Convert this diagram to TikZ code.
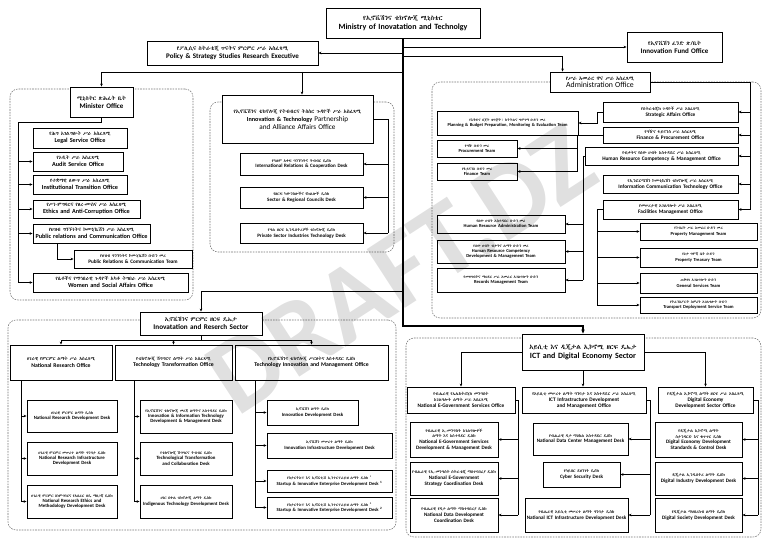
\documentclass[tikz,border=0pt]{standalone}
\usepackage{fontspec}
\usetikzlibrary{arrows.meta,calc}
\setmainfont{Carlito}
\IfFontExistsTF{Abyssinica SIL}{\newfontfamily\am[Scale=0.82]{Abyssinica SIL}}{%
\IfFontExistsTF{FreeSerif}{\newfontfamily\am[Scale=0.82]{FreeSerif}}{%
\IfFontExistsTF{FreeSans}{\newfontfamily\am[Scale=0.82]{FreeSans}}{\newfontfamily\am{DejaVu Sans}}}}
\newcommand\TT[2]{{\am #1}\\#2}
\newcommand\Bx[7][]{%
 \pgfmathsetmacro\bw{#5-#3}\pgfmathsetmacro\bh{#6-#4}%
 \pgfmathsetmacro\bcx{(#3+#5)/2}\pgfmathsetmacro\bcy{(#4+#6)/2}%
 \pgfmathsetmacro\btw{#5-#3-3}%
 \node[bx,minimum width=\bw pt,minimum height=\bh pt,text width=\btw pt,#1] (#2) at (\bcx,\bcy) {#7};}
\newcommand\fz[1]{\pgfmathsetmacro\fzb{#1*1.13}\fontsize{#1}{\fzb}\selectfont\bfseries}
\tikzset{
 bx/.style={draw,line width=0.9pt,fill=white,align=center,inner sep=0.8pt,font=\fz{5}},
 frame/.style={draw=black!55,fill=none,dash pattern=on 1.6pt off 1.1pt,line width=0.55pt,rounded corners=8pt},
 fs/.style={font=\fz{#1}},
 arr/.style={line width=0.7pt,-{Stealth[length=3pt,width=2.6pt]}},
 ln/.style={line width=0.7pt},
 trunk/.style={line width=1.3pt},
}
\begin{document}
\hyphenpenalty=10000 \exhyphenpenalty=10000
\begin{tikzpicture}[x=1pt,y=-1pt]
\useasboundingbox (0,0) rectangle (768,543);
% frames
\Bx[frame]{fmin}{10}{89}{193}{300}{}
\Bx[frame]{fpar}{210}{102}{394}{252}{}
\Bx[frame]{fadm}{432}{82}{761}{318}{}
\Bx[frame]{firs}{8}{320}{396}{530}{}
\Bx[frame]{fict}{406}{338}{761}{537}{}
% top
\Bx[fs=8]{mit}{326}{8}{480}{38}{\TT{የኢኖቬሽንና ቴክኖሎጂ ሚኒስቴር}{Ministry of Inovatation and Technolgy}}
\Bx[fs=7]{pol}{147}{41}{318}{65}{\TT{የፖሊሲና ስትራቴጂ ጥናትና ምርምር ሥራ አስፈጻሚ}{Policy \& Strategy Studies Research Executive}}
\Bx[fs=7]{fund}{627}{32}{722}{62}{\TT{የኢኖቬሽን ፈንድ ጽ/ቤት}{Innovation Fund Office}}
\Bx[fs=6.5]{adm}{550}{72}{650}{92}{{\am የሥራ አመራር ዋና ሥራ አስፈጻሚ}\\{\mdseries\fontsize{7.8}{8.4}\selectfont Administration Office}}
% minister group
\Bx[fs=7]{mino}{70}{87}{133}{117}{\TT{ሚኒስትር ጽሕፈት ቤት}{Minister Office}}
\Bx[fs=6.2]{leg}{33}{128}{127}{148}{\TT{የሕግ አገልግሎት ሥራ አስፈጻሚ}{Legal Service Office}}
\Bx[fs=6.2]{aud}{33}{152}{123}{171}{\TT{የኦዲት ሥራ አስፈጻሚ}{Audit Service Office}}
\Bx[fs=6.2]{ins}{33}{175}{127}{194}{\TT{የተቋማዊ ለውጥ ሥራ አስፈጻሚ}{Institutional Transition Office}}
\Bx[fs=6.2]{eth}{33}{200}{140}{218}{\TT{የሥነ-ምግባርና የፀረ-ሙስና ሥራ አስፈጻሚ}{Ethics and Anti-Corruption Office}}
\Bx[fs=6.2]{pr}{33}{224}{150}{243}{\TT{የህዝብ ግንኙነትና ኮሙኒኬሽን ሥራ አስፈጻሚ}{Public relations and Communication Office}}
\Bx[fs=5.2]{prt}{74}{250}{192}{268}{\TT{የህዝብ ግንኙነትና ኮሙኒኬሽን ቡድን መሪ}{Public Relations \& Communication Team}}
\Bx[fs=6.2]{wom}{33}{273}{188}{292}{\TT{የሴቶችና የማኅበራዊ ጉዳዮች አካቶ ትግበራ ሥራ አስፈጻሚ}{Women and Social Affairs Office}}
% partnership group
\Bx[fs=6.4]{part}{222}{95}{373}{143}{{\am የኢኖቬሽንና ቴክኖሎጂ የትብብርና ትስስር ጉዳዮች ሥራ አስፈጻሚ}\\[1.5pt]{\fontsize{6.2}{8.2}\selectfont Innovation \& Technology} {\mdseries\fontsize{7.2}{8.2}\selectfont Partnership and Alliance Affairs Office}}
\Bx[fs=5]{ird}{240}{153}{363}{175}{\TT{የዓለም አቀፍ ግንኙነትና ትብብር ዴስክ}{International Relations \& Cooperation Desk}}
\Bx[fs=5]{src}{240}{187}{363}{208}{\TT{የዘርፍ ካውንስሎችና የክልሎች ዴስክ}{Sector \& Regional Councils Desk}}
\Bx[fs=5]{pst}{240}{223}{363}{243}{\TT{የግል ዘርፍ ኢንዱስትሪዎች ቴክኖሎጂ ዴስክ}{Private Sector Industries Technology Desk}}
% administration group
\Bx[fs=5.3]{str}{603}{102}{738}{122}{\TT{የስትራቴጂክ ጉዳዮች ሥራ አስፈጻሚ}{Strategic Affairs Office}}
\Bx[fs=5.3]{fpo}{603}{127}{738}{143}{\TT{የግዥና ፋይናንስ ሥራ አስፈጻሚ}{Finance \& Procurement Office}}
\Bx[fs=5.3]{hro}{585}{147}{738}{165}{\TT{የብቃትና የሰው ሀብት አስተዳደር ሥራ አስፈጻሚ}{Human Resource Competency \& Management Office}}
\Bx[fs=5.3]{icto}{603}{175}{738}{193}{\TT{የኢንፎርሜሽን ኮሙኒኬሽን ቴክኖሎጂ ሥራ አስፈጻሚ}{Information Communication Technology Office}}
\Bx[fs=5.3]{fac}{603}{200}{738}{219}{\TT{የመሠረታዊ አገልግሎት ሥራ አስፈጻሚ}{Facilities Management Office}}
\Bx[fs=4.5]{plan}{437}{111}{578}{135}{\TT{የእቅድና በጀት ዝግጅት፣ ክትትልና ግምገማ ቡድን መሪ}{Planning \& Budget Preparation, Monitoring \& Evaluation Team}}
\Bx[fs=4.6]{proc}{437}{140}{517}{157}{\TT{የግዥ ቡድን መሪ}{Procurement Team}}
\Bx[fs=4.6]{fint}{437}{163}{517}{180}{\TT{የፋይናንስ ቡድን መሪ}{Finance Team}}
\Bx[fs=4.6]{hra}{437}{215}{565}{233}{\TT{የሰው ሀብት አስተዳደር ቡድን መሪ}{Human Resource Administration Team}}
\Bx[fs=4.6]{hrc}{437}{240}{565}{263}{\TT{የሰው ሀብት ብቃትና ልማት ቡድን መሪ}{Human Resource Competency Development \& Management Team}}
\Bx[fs=4.6]{rec}{437}{268}{565}{292}{\TT{የመዛግብትና ማህደር ሥራ አመራር አገልግሎት ቡድን}{Records Management Team}}
\Bx[fs=4.6]{pmt}{640}{223}{757}{240}{\TT{የንብረት ሥራ አመራር ቡድን መሪ}{Property Management Team}}
\Bx[fs=4.6]{ptt}{640}{248}{757}{267}{\TT{የዕቃ ግምጃ ቤት ቡድን}{Property Treasury Team}}
\Bx[fs=4.6]{gst}{640}{273}{757}{293}{\TT{ጠቅላላ አገልግሎት ቡድን}{General Services Team}}
\Bx[fs=4.6]{tdt}{640}{297}{757}{313}{\TT{የትራንስፖርት ስምሪት አገልግሎት ቡድን}{Transport Deployment Service Team}}
% innovation and research sector
\Bx[fs=7.2]{irs}{140}{312}{262}{335}{\TT{ኢኖቬሽንና ምርምር ዘርፍ ዴኤታ}{Inovatation and Reserch Sector}}
\Bx[fs=5.7]{nro}{10}{345}{112}{380}{\TT{ሀገራዊ የምርምር ልማት ሥራ አስፈጻሚ}{National Research Office}}
\Bx[fs=5.7]{tto}{115}{345}{232}{380}{\TT{የቴክኖሎጂ ሽግግርና ልማት ሥራ አስፈጻሚ}{Technology Transformation Office}}
\Bx[fs=5.7]{tim}{235}{345}{388}{380}{\TT{የኢኖቬሽንና ቴክኖሎጂ ሥርፀትና አስተዳደር ዴስክ}{Technology Innovation and Management Office}}
\Bx[fs=4.8]{n1}{27}{400}{117}{432}{\TT{ሀገራዊ ምርምር ልማት ዴስክ}{National Research Development Desk}}
\Bx[fs=4.8]{n2}{27}{442}{117}{475}{\TT{ሀገራዊ ምርምር መሠረተ ልማት ግንባታ ዴስክ}{National Research Infrastructure Development Desk}}
\Bx[fs=4.8]{n3}{27}{485}{117}{518}{\TT{ሀገራዊ ምርምር ስነምግባርና የአሰራር ዘዴ ማዘጋጃ ዴስክ}{National Research Ethics and Methodology Development Desk}}
\Bx[fs=4.8]{t1}{140}{400}{232}{433}{\TT{የኢኖቬሽንና ቴክኖሎጂ መረጃ ልማትና አስተዳደር ዴስክ}{Innovation \& Information Technology Development \& Management Desk}}
\Bx[fs=4.8]{t2}{140}{442}{232}{475}{\TT{የቴክኖሎጂ ሽግግርና ትብብር ዴስክ}{Technological Transformation and Collaboration Desk}}
\Bx[fs=4.8]{t3}{140}{485}{232}{518}{\TT{ሀገር በቀል ቴክኖሎጂ ልማት ዴስክ}{Indigenous Technology Development Desk}}
\Bx[fs=4.8]{m1}{267}{400}{358}{425}{\TT{ኢኖቬሽን ልማት ዴስክ}{Innovation Development Desk}}
\Bx[fs=4.8]{m2}{267}{433}{392}{458}{\TT{ኢኖቬሽን መሠረተ ልማት ዴስክ}{Innovation Infrastructure Development Desk}}
\Bx[fs=4.7]{m3}{267}{470}{392}{492}{\TT{የስታርትአፕ እና ኢኖቬቲቭ ኢንተርፕራይዝ ልማት ዴስክ \textsuperscript{1}}{Startup \& Innovative Enterprise Development Desk \textsuperscript{1}}}
\Bx[fs=4.7]{m4}{267}{497}{392}{518}{\TT{የስታርትአፕ እና ኢኖቬቲቭ ኢንተርፕራይዝ ልማት ዴስክ \textsuperscript{2}}{Startup \& Innovative Enterprise Development Desk \textsuperscript{2}}}
% ICT sector
\Bx[fs=8]{ict}{522}{334}{644}{370}{\TT{አይሲቲ እና ዲጂታል ኢኮኖሚ ዘርፍ ዴኤታ}{ICT and Digital Economy Sector}}
\Bx[fs=5.3]{ego}{407}{387}{515}{413}{\TT{የብሔራዊ የኤሌክትሮኒክ መንግስት አገልግሎት ልማት ሥራ አስፈጻሚ}{National E-Government Services Office}}
\Bx[fs=5.3]{iio}{522}{387}{646}{413}{\TT{የአይሲቲ መሠረተ ልማት ግንባታ እና አስተዳደር ሥራ አስፈጻሚ}{ICT Infrastructure Development and Management Office}}
\Bx[fs=5.3]{deo}{658}{387}{753}{413}{\TT{የዲጂታል ኢኮኖሚ ልማት ዘርፍ ሥራ አስፈጻሚ}{Digital Economy Development Sector Office}}
\Bx[fs=5.1]{e1}{410}{422}{498}{457}{\TT{የብሔራዊ ኢ-መንግስት አገልግሎቶች ልማት እና አስተዳደር ዴስክ}{National E-Government Services Development \& Management Desk}}
\Bx[fs=5.1]{e2}{410}{462}{498}{495}{\TT{የብሔራዊ የኢ-መንግስት ስትራቴጂ ማስተባበሪያ ዴስክ}{National E-Government Strategy Coordination Desk}}
\Bx[fs=5.1]{e3}{410}{498}{498}{532}{\TT{የብሔራዊ የዳታ ልማት ማስተባበሪያ ዴስክ}{National Data Development Coordination Desk}}
\Bx[fs=5.1]{i1}{533}{423}{628}{455}{\TT{የብሔራዊ ዳታ ማዕከል አስተዳደር ዴስክ}{National Data Center Management Desk}}
\Bx[fs=5.1]{i2}{543}{462}{620}{487}{\TT{የሳይበር ደህንነት ዴስክ}{Cyber Security Desk}}
\Bx[fs=5.1]{i3}{525}{498}{628}{532}{\TT{የብሔራዊ አይሲቲ መሠረተ ልማት ግንባታ ዴስክ}{National ICT Infrastructure Development Desk}}
\Bx[fs=5.1]{d1}{655}{422}{742}{457}{\TT{የዲጂታል ኢኮኖሚ ልማት ስታንዳርድ እና ቁጥጥር ዴስክ}{Digital Economy Development Standards \& Control Desk}}
\Bx[fs=5.1]{d2}{655}{462}{742}{495}{\TT{ዲጂታል ኢንዱስትሪ ልማት ዴስክ}{Digital Industry Development Desk}}
\Bx[fs=5.1]{d3}{655}{498}{742}{532}{\TT{የዲጂታል ማህበረሰብ ልማት ዴስክ}{Digital Society Development Desk}}
% ---------- connectors ----------
\coordinate (j47) at (403,47);
\coordinate (j53) at (403,53);
\coordinate (j57) at (403,57);
\coordinate (j72) at (403,72);
\coordinate (j302) at (302,72);
\coordinate (j291) at (403,291);
\draw[trunk,-{Stealth[length=4pt,width=3.5pt]}] (mit.south) |- (583,326) -- (ict.north);
\draw[arr] (j53) -- (pol.east);
\draw[arr] (j47) -- (fund.west);
\draw[arr,line width=1pt] (j57) -| ($(adm.north west)+(13,0)$);
\draw[arr] (j72) -| (mino.north);
\draw[arr] (j302) -- (j302 |- part.north);
\draw[arr] (j291) -| (irs.north);
% minister group
\coordinate (mb) at (18,283);
\draw[ln] (mino.south) -- ++(0,5) -| (mb);
\foreach \n in {aud,ins,eth,pr,wom} \draw[arr] (mb |- \n.west) -- (\n.west);
\draw[arr] ($(pr.south west)+(25,0)$) |- (prt.west);
% partnership group
\coordinate (pb) at (388,233);
\draw[ln] (part.east) -| (pb);
\foreach \n in {ird,src,pst} \draw[arr] (pb |- \n.east) -- (\n.east);
% administration group
\coordinate (ab) at (750,210);
\draw[ln] (adm.east) -| (ab);
\foreach \n in {str,fpo,hro,icto,fac} \draw[arr] (ab |- \n.east) -- (\n.east);
\draw[arr] (str.west) -- ++(-5,0) |- (plan.east);
\coordinate (fb) at (577,171.5);
\draw[ln] (fpo.west) -| (fb);
\draw[arr] (fb |- proc.east) -- (proc.east);
\draw[arr] (fb) -- (fint.east);
\coordinate (hb) at (583,280);
\draw[ln] (hro.west) -| (hb);
\foreach \n in {hra,hrc,rec} \draw[arr] (hb |- \n.east) -- (\n.east);
\coordinate (fcb) at (597,305);
\draw[ln] (fac.west) -| (fcb);
\foreach \n in {pmt,ptt,gst,tdt} \draw[arr] (fcb |- \n.west) -- (\n.west);
% innovation and research sector
\coordinate (ih) at (201,340);
\draw[ln] (irs.south) -- (ih);
\draw[arr] (ih) -| (nro.north);
\draw[arr] (ih) -| (tim.north);
\draw[arr] (ih -| tto.north) -- (tto.north);
\coordinate (nb) at (21,501.5);
\draw[ln] (nb |- nro.south) -- (nb);
\foreach \n in {n1,n2,n3} \draw[arr] (nb |- \n.west) -- (\n.west);
\coordinate (tb) at (134,501.5);
\draw[ln] (tb |- tto.south) -- (tb);
\foreach \n in {t1,t2,t3} \draw[arr] (tb |- \n.west) -- (\n.west);
\coordinate (mbb) at (255,507.5);
\draw[ln] (mbb |- tim.south) -- (mbb);
\foreach \n in {m1,m2,m3,m4} \draw[arr] (mbb |- \n.west) -- (\n.west);
% ICT sector
\draw[arr] (ict.west) -| (ego.north);
\draw[arr] (ict.east) -| (deo.north);
\draw[arr] (ict.south) -- (ict.south |- iio.north);
\coordinate (eb) at (518,515);
\draw[ln] (ego.east) -| (eb);
\foreach \n in {e1,e2,e3} \draw[arr] (eb |- \n.east) -- (\n.east);
\coordinate (ib) at (650,515);
\draw[ln] (iio.east) -| (ib);
\foreach \n in {i1,i2,i3} \draw[arr] (ib |- \n.east) -- (\n.east);
\coordinate (db) at (758,515);
\draw[ln] (deo.east) -| (db);
\foreach \n in {d1,d2,d3} \draw[arr] (db |- \n.east) -- (\n.east);
% watermark
\node[rotate=33,opacity=0.12,text=black,font=\fontsize{108}{108}\selectfont\bfseries] (wm) at (401,270) {DRAFT.DZ};
\end{tikzpicture}
\end{document}
